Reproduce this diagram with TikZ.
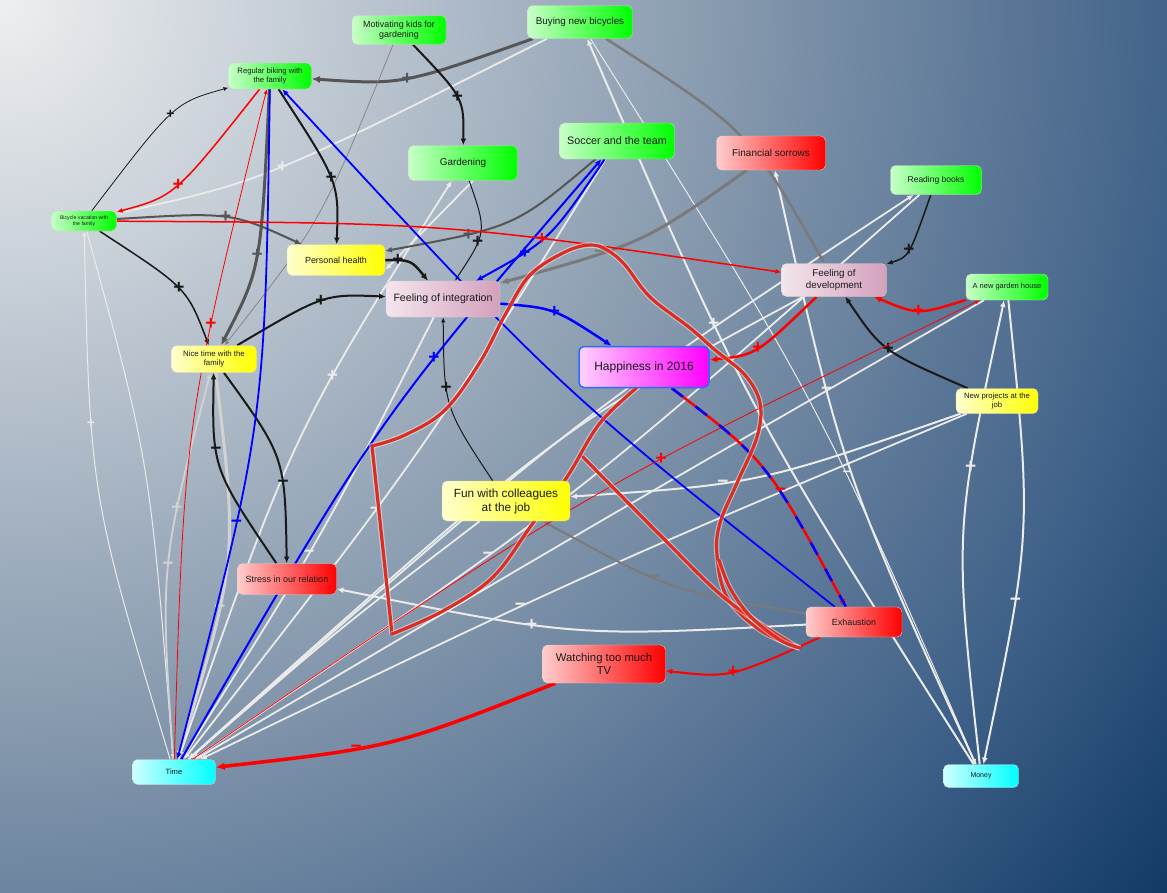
\documentclass[tikz,border=0pt]{standalone}
\usepackage{fontspec}
\setmainfont{Liberation Sans}
\usepackage{xcolor}
\usepackage{tikz}
\usetikzlibrary{arrows.meta}
\definecolor{ink}{RGB}{25,25,25}
\definecolor{slate}{RGB}{85,85,85}
\definecolor{ash}{RGB}{122,122,122}
\definecolor{pale}{RGB}{235,235,235}
\definecolor{chalk}{RGB}{210,210,210}
\definecolor{sketch}{RGB}{220,45,35}
\definecolor{goodL}{RGB}{200,255,200}
\definecolor{badL}{RGB}{255,205,205}
\definecolor{sunL}{RGB}{255,255,205}
\definecolor{mauveL}{RGB}{243,230,237}
\definecolor{mauveR}{RGB}{212,160,188}
\definecolor{joyL}{RGB}{255,210,255}
\definecolor{joyrim}{RGB}{40,110,255}
\definecolor{iceL}{RGB}{205,255,255}
\definecolor{skyA}{RGB}{238,239,240}
\definecolor{skyB}{RGB}{200,208,216}
\definecolor{skyC}{RGB}{128,148,170}
\definecolor{skyD}{RGB}{62,96,136}
\definecolor{skyE}{RGB}{12,54,96}
\pgfdeclareradialshading{sky}{\pgfpoint{0bp}{0bp}}{color(0bp)=(skyA); color(4.6bp)=(skyB); color(12.8bp)=(skyC); color(19.9bp)=(skyD); color(25bp)=(skyE); color(50bp)=(skyE)}
\pgfdeclarelayer{backdrop}
\pgfdeclarelayer{links}
\pgfsetlayers{backdrop,links,main}
\newcommand\boxfont[2]{\fontsize{#1}{#2}\selectfont}

\begin{document}
\begin{tikzpicture}[x=1pt, y=-1pt,
		box/.style={rounded corners=5pt, draw=black!18, line width=0.4pt, align=center,
		            inner sep=1pt, text=ink},
		dims/.style 2 args={minimum width=#1pt, minimum height=#2pt},
		good/.style={box, left color=goodL, right color=green},
		bad/.style={box, left color=badL, right color=red},
		sunny/.style={box, left color=sunL, right color=yellow},
		mauve/.style={box, left color=mauveL, right color=mauveR},
		joy/.style={box, left color=joyL, right color=magenta, draw=joyrim, line width=1.5pt},
		icy/.style={box, left color=iceL, right color=cyan},
		link/.style={line width=#1pt, -{Latex[length=3.5pt 1.6, width=3pt 1.4]}},
		sign/.style={text=#1, font=\boxfont{19}{19}\bfseries, inner sep=0pt},
		small sign/.style={text=#1, font=\boxfont{14}{14}\bfseries, inner sep=0pt},
		scribble/.style={draw=sketch, line width=3.2pt, line cap=round, line join=round,
		                 preaction={draw=white, draw opacity=.45, line width=5.5pt}}]
	\useasboundingbox (0,0) rectangle (1167,892);
	\begin{pgfonlayer}{backdrop}
		\begin{scope}
			\clip (0,0) rectangle (1167,892);
			\shade[shading=sky] (0,0) circle[radius=1500];
		\end{scope}
	\end{pgfonlayer}

	% factors
	\node[good, dims={94}{29}, font=\boxfont{8.9}{10}] (motiv) at (399,30) {Motivating kids for\\gardening};
	\node[good, dims={105}{33}, font=\boxfont{9.8}{11}] (buying) at (580,22) {Buying new bicycles};
	\node[good, dims={83}{26}, font=\boxfont{7.7}{9}] (biking) at (270,76) {Regular biking with\\the family};
	\node[good, dims={109}{35}, font=\boxfont{9.9}{11}] (garden) at (463,163) {Gardening};
	\node[good, dims={115}{36}, font=\boxfont{10.8}{12}] (soccer) at (617,141) {Soccer and the team};
	\node[bad, dims={109}{34}, font=\boxfont{10}{11}] (finance) at (771,153) {Financial sorrows};
	\node[good, dims={91}{29}, font=\boxfont{8.5}{10}] (reading) at (936,180) {Reading books};
	\node[good, dims={65}{20}, font=\boxfont{5.2}{6.5}] (bikevac) at (84,221) {Bicycle vacation with\\the family};
	\node[sunny, dims={98}{31}, font=\boxfont{8.9}{10}] (health) at (336,260) {Personal health};
	\node[mauve, dims={114}{36}, font=\boxfont{10.6}{12}] (integr) at (443,299) {Feeling of integration};
	\node[mauve, dims={105}{33}, font=\boxfont{9.8}{12}] (develop) at (834,280) {Feeling of\\development};
	\node[good, dims={82}{26}, font=\boxfont{7.5}{9}] (ghouse) at (1007,287) {A new garden house};
	\node[joy, dims={130}{41}, font=\boxfont{12}{13}] (happy) at (644,367) {Happiness in 2016};
	\node[sunny, dims={85}{27}, font=\boxfont{7.8}{9.5}] (nice) at (214,359) {Nice time with the\\family};
	\node[sunny, dims={82}{25}, font=\boxfont{7.7}{9.5}] (projects) at (997,401) {New projects at the\\job};
	\node[sunny, dims={128}{40}, font=\boxfont{11.8}{14}] (fun) at (506,501) {Fun with colleagues\\at the job};
	\node[bad, dims={99}{31}, font=\boxfont{9}{10}] (stress) at (287,579) {Stress in our relation};
	\node[bad, dims={96}{30}, font=\boxfont{8.9}{10}] (exhaust) at (854,622) {Exhaustion};
	\node[bad, dims={123}{38}, font=\boxfont{11.3}{13}] (tv) at (604,664) {Watching too much\\TV};
	\node[icy, dims={83}{25}, font=\boxfont{7.6}{9}] (time) at (174,772) {Time};
	\node[icy, dims={75}{23}, font=\boxfont{7}{8}] (money) at (981,776) {Money};

	\begin{pgfonlayer}{links}
		% pale links
		\draw[link=1.8, pale] (buying) .. controls (266,180) .. (bikevac) node[sign=pale, pos=.5] {+};
		\draw[link=1, pale] (time) .. controls (90,495) .. (bikevac) node[small sign=pale, pos=.675] {+};
		\draw[link=1, pale] (bikevac) .. controls (150,462) .. (time);
		\draw[link=1.8, chalk] (time) .. controls (160,566) .. (nice)
			node[sign=chalk, pos=.69] {+} node[sign=chalk, pos=.5] {−};
		\draw[link=3, chalk] (nice) .. controls (238,558) .. (time) node[sign=chalk, pos=.66] {−};
		\draw[link=1.8, pale] (time) .. controls (294,430) .. (garden) node[sign=pale, pos=.65] {+};
		\draw[link=1.8, pale] ([xshift=10pt]garden.south) -- ([yshift=-10pt]health.east);
		\draw[link=1.8, pale] (soccer) .. controls (422,454) .. (time) node[sign=pale, pos=.62] {−};
		\draw[link=1.8, pale] (reading) .. controls (571,503) .. (time) node[sign=pale, pos=.64] {−};
		\draw[link=1.8, pale] (time) .. controls (580,414) .. (reading);
		\draw[link=1.8, pale] (projects) .. controls (585,574) .. (time) node[sign=pale, pos=.61] {−};
		\draw[link=1.8, pale] (integr) .. controls (322,537) .. (time) node[sign=pale, pos=.55] {−};
		\foreach \src/\cx/\cy in {develop/555/430, ghouse/610/515, fun/335/632}
			\draw[link=1.8, pale] (\src) .. controls (\cx,\cy) .. (time);
		\draw[link=2, pale] (exhaust) .. controls (576,637) .. (stress) node[sign=pale, pos=.62] {+};
		\draw[link=2, pale] (projects) .. controls (758,484) .. (fun) node[sign=pale, pos=.625] {−};
		\draw[link=2, pale] (money) .. controls (954,532) .. (ghouse) node[sign=pale, pos=.68] {+};
		\draw[link=2, pale] (ghouse) .. controls (1032,532) .. (money) node[sign=pale, pos=.69] {−};
		\draw[link=2, pale] (money) .. controls (842,471) .. (finance) node[sign=pale, pos=.67] {−};
		\draw[link=1, pale] (buying) .. controls (819,402) .. (money) node[small sign=pale, pos=.63] {−};
		\draw[link=2, pale] (money) .. controls (744,402) .. (buying) node[sign=pale, pos=.64] {+};

		% grey and black links
		\draw[link=3, slate] (buying) .. controls (402,85) .. (biking) node[sign=slate, pos=.5] {+};
		\draw[link=2.5, ash] (buying) .. controls (748,130) .. (develop);
		\draw[link=3, ash] (finance) .. controls (644,243) .. (integr) node[sign=ash, pos=.69] {−};
		\draw[link=2, ash] (exhaust) .. controls (669,590) .. (fun) node[sign=ash, pos=.58] {−};
		\draw[link=0.7, gray] (motiv) .. controls (321,222) .. (nice);
		\draw[link=2, ink] (motiv) .. controls (464,98) .. (garden) node[sign=ink, pos=.5] {+};
		\draw[link=0.8, ink] (bikevac) .. controls (174,103) .. (biking) node[small sign=ink, pos=.5] {+};
		\draw[link=2, ink] (biking) .. controls (339,182) .. (health) node[sign=ink, pos=.5] {+};
		\draw[link=3, slate] (biking) .. controls (261,268) .. (nice) node[sign=slate, pos=.5] {+};
		\draw[link=2, slate] (bikevac) .. controls (231,212) .. (health) node[sign=slate, pos=.5] {+};
		\draw[link=1.5, ink] (bikevac) .. controls (187,288) .. (nice) node[sign=ink, pos=.5] {+};
		\draw[link=2, ink] (nice) .. controls (324,294) .. (integr) node[sign=ink, pos=.5] {+};
		\draw[link=2.5, ink] (health) .. controls (411,260) .. (integr) node[sign=ink, pos=.2] {+};
		\draw[link=2, slate] (soccer) .. controls (515,227) .. (health) node[sign=slate, pos=.72] {+};
		\draw[link=1, ink] (garden) .. controls (487,232) .. (integr) node[sign=ink, pos=.64] {+};
		\draw[link=1, ink] (fun) .. controls (444,407) .. (integr) node[sign=ink, pos=.63] {+};
		\draw[link=1.5, ink] (reading) .. controls (909,257) .. (develop) node[sign=ink, pos=.5] {+};
		\draw[link=2, ink] (projects) .. controls (882,351) .. (develop) node[sign=ink, pos=.5] {+};
		\draw[link=2, ink] (nice) .. controls (285,457) .. (stress) node[sign=ink, pos=.66] {−};
		\draw[link=2, ink] (stress) .. controls (212,468) .. (nice) node[sign=ink, pos=.62] {−};

		% blue links
		\draw[link=1.8, blue] (exhaust) .. controls (558,388) .. (biking);
		\draw[link=1.8, blue] (biking) .. controls (265,424) .. (time) node[sign=blue, pos=.69] {−};
		\draw[link=2, blue] (time) .. controls (377,420) .. (soccer) node[sign=blue, pos=.66] {+};
		\draw[link=2, blue] (soccer) .. controls (550,240) .. (integr) node[sign=blue, pos=.71] {+};
		\draw[link=2.5, blue] (integr) .. controls (554,308) .. (happy) node[sign=blue, pos=.5] {+};

		% red links
		\draw[link=1.5, red] (biking) .. controls (175,196) .. (bikevac) node[sign=red, pos=.5] {+};
		\draw[link=1.5, red] (bikevac) .. controls (448,223) .. (develop) node[sign=red, pos=.68] {+};
		\draw[link=0.8, red] (time) .. controls (184,424) .. (biking) node[sign=red, pos=.69] {+};
		\draw[link=0.8, red] (time) .. controls (581,494) .. (ghouse) node[sign=red, pos=.63] {+};
		\draw[link=2.5, red] (develop) .. controls (756,355) .. (happy) node[sign=red, pos=.5] {+};
		\draw[link=2.5, red] (ghouse) .. controls (918,315) .. (develop) node[sign=red, pos=.5] {+};
		\draw[link=2.5, red] (happy) .. controls (767,461) .. (exhaust);
		\draw[line width=2.5pt, blue, dash pattern=on 14pt off 16pt] (happy) .. controls (767,461) .. (exhaust)
			node[sign=red, pos=.62] {−};
		\draw[link=2, red] (exhaust) .. controls (730,678) .. (tv) node[sign=red, pos=.5] {+};
		\draw[link=3.5, red] (tv) .. controls (394,747) .. (time) node[sign=red, pos=.635] {−};

		% hand-drawn red outline
		\draw[scribble] plot[smooth, tension=.6] coordinates {(800,648) (760,630) (727,597) (717,555)
			(720,523) (737,483) (757,437) (760,403) (745,375) (715,350) (690,328) (650,297) (625,265)
			(607,250) (590,245) (565,252) (530,275) (505,315) (480,362) (445,410) (405,435) (372,446)}
			-- (392,634);
		\draw[scribble] plot[smooth, tension=.6] coordinates {(392,634) (443,611) (493,577) (533,523)
			(567,477) (600,423) (640,385)};
		\draw[scribble] plot[smooth, tension=.6] coordinates {(583,457) (660,535) (727,600) (797,647)};
		\draw[scribble] plot[smooth, tension=.6] coordinates {(800,648) (780,640) (750,616) (730,588) (719,560)};
	\end{pgfonlayer}
\end{tikzpicture}
\end{document}
